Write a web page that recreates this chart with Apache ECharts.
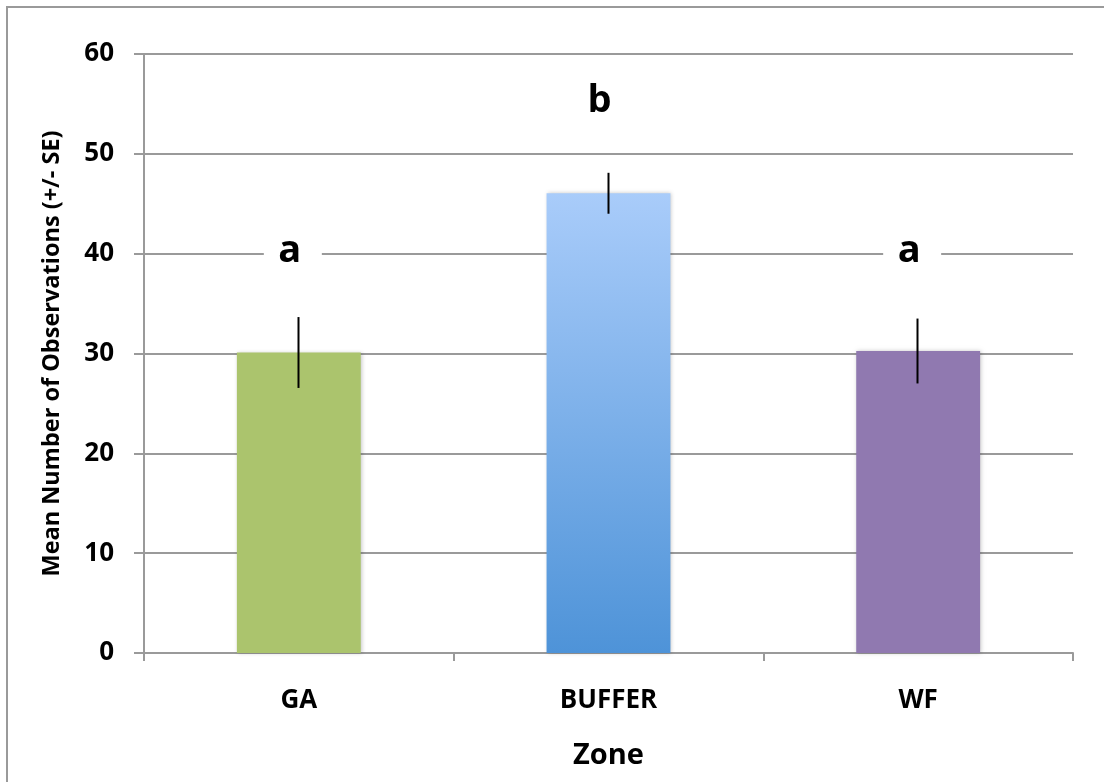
<!DOCTYPE html>
<html>
<head>
<meta charset="utf-8">
<script src="https://cdn.jsdelivr.net/npm/echarts@6/dist/echarts.min.js"></script>
<style>
html,body{margin:0;padding:0;background:#fff;}
#chart{width:1104px;height:782px;}
</style>
</head>
<body>
<div id="chart"></div>
<script>
const categories = ['GA', 'BUFFER', 'WF'];
const means = [30.1, 46.05, 30.25];
const se = [3.55, 2.05, 3.25];
const letters = ['a', 'b', 'a'];
const letterY = [40.2, 55.3, 40.2];
const yTicks = [0, 10, 20, 30, 40, 50, 60];

const FONT = '"Open Sans", "Liberation Sans", sans-serif';

const barColors = [
  '#abc46d',
  new echarts.graphic.LinearGradient(0, 0, 0, 1, [
    { offset: 0, color: '#a9ccfa' },
    { offset: 1, color: '#4e93d8' }
  ]),
  '#9079b0'
];

const chart = echarts.init(document.getElementById('chart'), null, { renderer: 'canvas' });

const option = {
  backgroundColor: '#ffffff',
  animation: false,
  graphic: [{
    type: 'rect',
    z: -10,
    shape: { x: 7, y: 7, width: 1200, height: 900 },
    style: { fill: 'none', stroke: '#9a9a9a', lineWidth: 2 }
  }],
  grid: { left: 144, right: 31, top: 54, bottom: 129, containLabel: false },
  xAxis: {
    type: 'category',
    data: categories,
    name: 'Zone',
    nameLocation: 'middle',
    nameGap: 88,
    nameTextStyle: { fontFamily: FONT, fontWeight: 'bold', fontSize: 29, color: '#000' },
    axisLine: { show: true, lineStyle: { color: '#9a9a9a', width: 2 } },
    axisTick: { show: true, length: 8, lineStyle: { color: '#9a9a9a', width: 2 } },
    axisLabel: { margin: 35, fontFamily: FONT, fontWeight: 'bold', fontSize: 26, color: '#000' },
    splitLine: { show: false }
  },
  yAxis: {
    type: 'value',
    min: yTicks[0],
    max: yTicks[yTicks.length - 1],
    interval: 10,
    name: 'Mean Number of Observations (+/- SE)',
    nameLocation: 'middle',
    nameGap: 80,
    nameRotate: 90,
    nameTextStyle: { fontFamily: FONT, fontWeight: 'bold', fontSize: 23.5, color: '#000' },
    axisLine: { show: true, lineStyle: { color: '#9a9a9a', width: 2 } },
    axisTick: { show: true, length: 10, lineStyle: { color: '#9a9a9a', width: 2 } },
    axisLabel: { margin: 30, fontFamily: FONT, fontWeight: 'bold', fontSize: 26, color: '#000' },
    splitLine: { show: true, lineStyle: { color: '#9a9a9a', width: 2 } }
  },
  series: [
    {
      type: 'bar',
      barWidth: '40%',
      data: means.map((v, i) => ({
        value: v,
        itemStyle: {
          color: barColors[i],
          shadowBlur: 4,
          shadowColor: 'rgba(0,0,0,0.22)',
          shadowOffsetX: 1,
          shadowOffsetY: 0
        }
      })),
      z: 2
    },
    {
      type: 'custom',
      z: 5,
      data: means.map((v, i) => [i, v - se[i], v + se[i]]),
      renderItem: function (params, api) {
        const lo = api.coord([api.value(0), api.value(1)]);
        const hi = api.coord([api.value(0), api.value(2)]);
        return {
          type: 'line',
          shape: { x1: Math.round(lo[0]) - 0.5, y1: lo[1], x2: Math.round(hi[0]) - 0.5, y2: hi[1] },
          style: { stroke: '#000', lineWidth: 2 }
        };
      },
      encode: { x: 0, y: [1, 2] }
    },
    {
      type: 'custom',
      z: 6,
      data: letterY.map((v, i) => [i, v]),
      renderItem: function (params, api) {
        const p = api.coord([api.value(0), api.value(1)]);
        const txt = letters[params.dataIndex];
        return {
          type: 'group',
          children: [
            {
              type: 'rect',
              shape: { x: p[0] - 6 - 29, y: p[1] - 20, width: 58, height: 40 },
              style: { fill: '#ffffff' }
            },
            {
              type: 'text',
              style: {
                text: txt,
                x: p[0] - 9,
                y: p[1],
                align: 'center',
                verticalAlign: 'middle',
                fontFamily: FONT,
                fontWeight: 'bold',
                fontSize: 38,
                fill: '#000'
              }
            }
          ]
        };
      },
      encode: { x: 0, y: 1 }
    }
  ]
};

chart.setOption(option);
</script>
</body>
</html>
